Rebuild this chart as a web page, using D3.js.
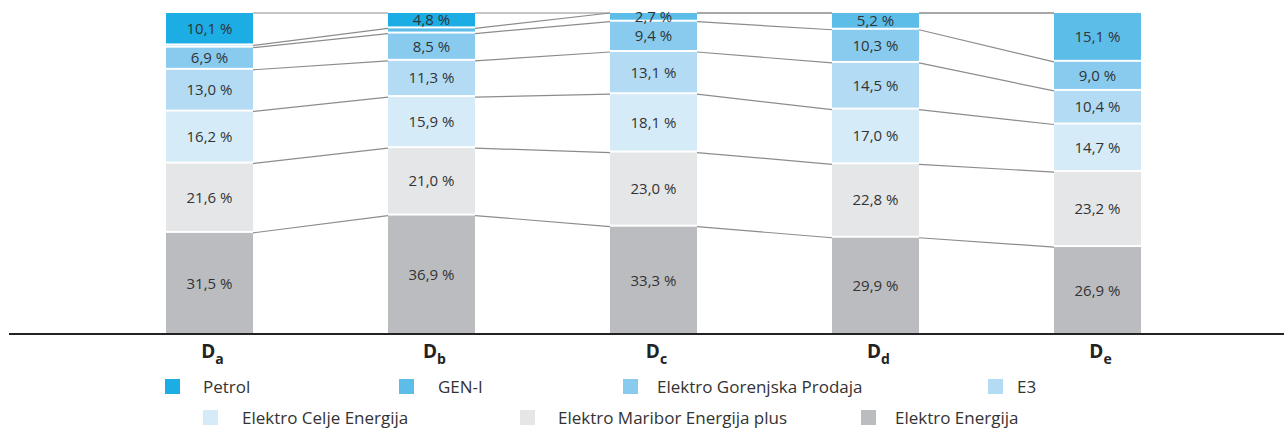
<!DOCTYPE html>
<html><head><meta charset="utf-8">
<script src="https://cdn.jsdelivr.net/npm/d3@7"></script>
<style>body{margin:0;background:#fff}svg{display:block}text{font-family:"Open Sans",sans-serif}</style>
</head><body><svg id="c" width="1284" height="428"></svg>
<script>
const categories = ["a","b","c","d","e"];
const seriesNames = ["Elektro Energija","Elektro Maribor Energija plus","Elektro Celje Energija","E3","Elektro Gorenjska Prodaja","GEN-I","Petrol"];
const elektroEnergija = [31.5,36.9,33.3,29.9,26.9];
const elektroMaribor = [21.6,21.0,23.0,22.8,23.2];
const elektroCelje = [16.2,15.9,18.1,17.0,14.7];
const e3 = [13.0,11.3,13.1,14.5,10.4];
const elektroGorenjska = [6.9,8.5,9.4,10.3,9.0];
const genI = [0.7,1.6,2.7,5.2,15.1];
const petrol = [10.1,4.8,0,0,0];
const colors = ["#bbbcc0","#e5e6e7","#d5ebf8","#b3dbf4","#88cbee","#5cbde9","#1badE4"];
const legendOrder = ["Petrol","GEN-I","Elektro Gorenjska Prodaja","E3","Elektro Celje Energija","Elektro Maribor Energija plus","Elektro Energija"];

const values = [elektroEnergija,elektroMaribor,elektroCelje,e3,elektroGorenjska,genI,petrol];
const rows = categories.map((c,i)=>{const o={cat:c}; seriesNames.forEach((s,k)=>o[s]=values[k][i]); return o;});
const stack = d3.stack().keys(seriesNames).offset(d3.stackOffsetExpand);
const stacked = stack(rows);

const svg = d3.select("#c");
const x = d3.scaleBand().domain(categories).range([98.5,1208.5]).paddingInner(0.608).paddingOuter(0.304);
const y = d3.scaleLinear().domain([0,1]).range([334,13]);
const color = d3.scaleOrdinal().domain(seriesNames).range(colors);

// connector lines
const gl = svg.append("g");
stacked.forEach(s=>{
  for(let i=0;i<categories.length-1;i++){
    gl.append("line")
      .attr("x1",x(categories[i])+x.bandwidth()).attr("y1",y(s[i][1]))
      .attr("x2",x(categories[i+1])).attr("y2",y(s[i+1][1]))
      .attr("stroke","#8c8c8c").attr("stroke-width",1.2);
  }
});

// bars
const gs = svg.append("g").selectAll("g").data(stacked).join("g").attr("fill",d=>color(d.key));
gs.each(function(s,k){
  d3.select(this).selectAll("rect").data(s).join("rect")
    .attr("x",(d,i)=>x(categories[i]))
    .attr("width",x.bandwidth())
    .attr("y",d=>y(d[1]))
    .attr("height",d=>Math.max(0,y(d[0])-y(d[1])-(k===0?0:2)));
});
// labels
stacked.forEach((s,k)=>{
  s.forEach((d,i)=>{
    const v = values[k][i];
    if(v<2) return;
    svg.append("text")
      .attr("x",x(categories[i])+x.bandwidth()/2)
      .attr("y",(y(d[0])+y(d[1]))/2 - (k===0?0:1))
      .attr("dy","0.36em")
      .attr("text-anchor","middle")
      .attr("font-size",15).attr("fill","#333")
      .text(d3.format(".1f")(v).replace(".",",")+" %");
  });
});

// axis line
svg.append("line").attr("x1",9).attr("x2",1284).attr("y1",334).attr("y2",334).attr("stroke","#222").attr("stroke-width",2);

// category labels
categories.forEach(c=>{
  const t = svg.append("text").attr("x",x(c)+x.bandwidth()/2+3).attr("y",358)
    .attr("text-anchor","middle").attr("font-weight",700).attr("font-size",19).attr("fill","#222");
  t.append("tspan").text("D");
  t.append("tspan").attr("font-size",14).attr("dy",6).text(c);
});

// legend
const legendPos = [[165,387,203],[399,387,438],[623,387,657],[988,387,1017],[203,418,242],[520,418,558],[861,418,895]];
legendOrder.forEach((name,i)=>{
  const [sx,cy,tx] = legendPos[i];
  svg.append("rect").attr("x",sx).attr("y",cy-8).attr("width",15).attr("height",15).attr("fill",color(name));
  svg.append("text").attr("x",tx).attr("y",cy).attr("dy","0.36em").attr("font-size",17).attr("fill","#333").text(name);
});
</script></body></html>
